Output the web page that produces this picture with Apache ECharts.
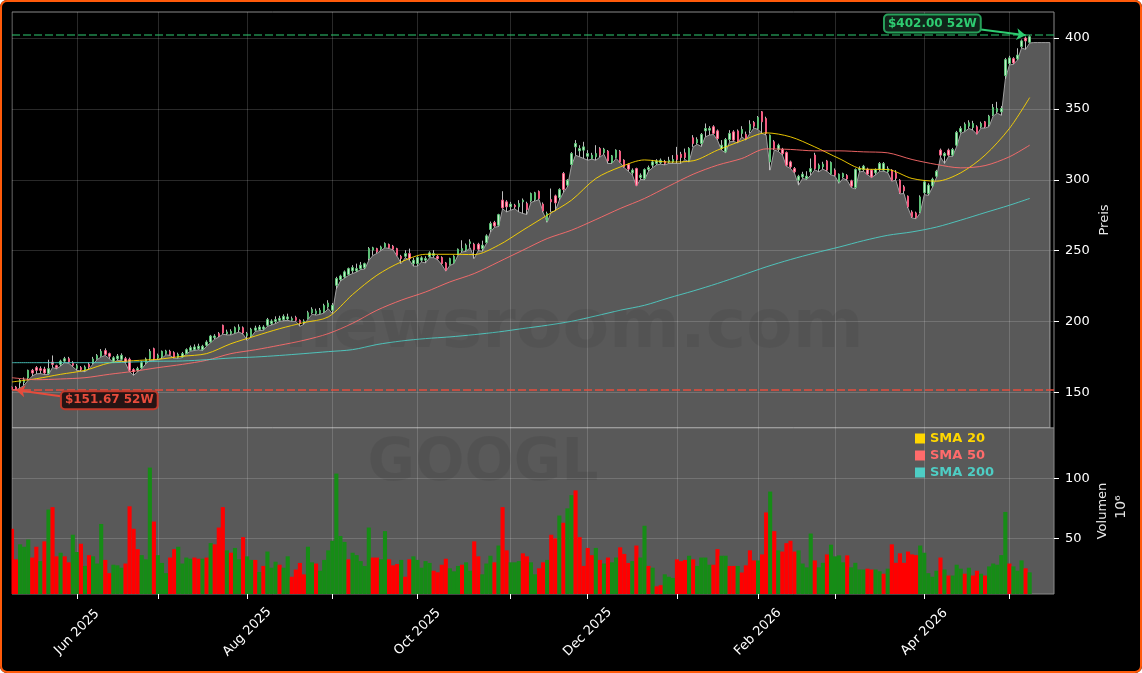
<!DOCTYPE html>
<html>
<head>
<meta charset="utf-8">
<title>GOOGL</title>
<script src="https://cdn.jsdelivr.net/npm/echarts@6/dist/echarts.min.js"></script>
<style>
    html, body { margin: 0; padding: 0; background: #fff; overflow: hidden; }
    #chart { position: absolute; left: 0; top: 0; width: 1142px; height: 673px; border-radius: 7px; overflow: hidden; }
    #frame { position: absolute; left: 0; top: 0; width: 1142px; height: 673px; box-sizing: border-box;
             border: 2px solid #ff5a0a; border-radius: 7px; pointer-events: none; }
</style>
</head>
<body>
<div id="chart"></div>
<div id="frame"></div>
<script>
/* trading days, one row = 10 days */
var opens = [
    153.7,153.7,156.6,157,160.1,165.5,167.4,166.7,166.4,163.2,
    171.4,168.8,169.7,172,173.7,170.7,166.9,167.4,165.5,169.7,
    170.7,173.7,175.6,179.4,177.3,172,173.7,173.3,173.7,173.3,
    166,165.5,167.2,170.9,173.7,180.8,174.2,174.9,177.3,178.9,
    178,174.5,174.9,177.3,179.6,180.1,180.8,180.1,183.2,185.5,
    188.6,191.4,197.3,191.4,191.4,192.1,194.2,195.6,190,189.7,
    193.8,194.2,194.7,197.3,198.5,199.9,200.8,201.3,201.8,200.8,
    202.7,200.8,199.4,202,206,205.5,205.5,206.7,210.2,207.9,
    225.5,229.5,231.4,233.1,235.7,235.7,237.3,238,244.4,250.3,
    251.4,251,252.6,254.3,253.1,251.4,246,246,247.9,240.8,
    240.8,243.2,243.2,245.6,246.5,245.9,245.1,241.3,240.1,241.3,
    247.4,249.8,250.3,255,254.5,254.5,251.4,255.7,264.9,269.8,
    267.9,285.6,284.4,280.9,282,280.9,284.4,283.2,285.1,286,
    291.7,282.8,271,286,288.6,287.5,304.4,296.2,310.8,323.2,
    320.4,320.9,316.6,315,316.2,322,319,320.2,312.2,315.7,
    320.2,313.8,310.8,304.9,307.9,301.6,300.9,307.2,310.3,311.5,
    312,312.9,312.6,312.6,317.4,318,319,313.8,329.6,326,
    325.6,334.5,335,337.4,334.5,322,319.7,328.4,333.8,334.5,
    332.7,332,335,340.4,336.2,348,343.2,312.6,326.8,321.4,
    321.4,319.2,312.6,307.9,299.7,302,300.9,305.6,317.4,307.9,
    309.1,313.3,304,306.8,298.5,302,303,299.2,294.5,306.8,
    307.2,307.5,306.8,304.9,307.2,306.8,305.6,306.8,304.9,299.7,
    295,288.4,277.3,276.6,277.3,290.8,290.3,295.7,302.5,320.9,
    316.9,320.9,317.4,324.4,333.8,335,337.8,336.9,337.4,337.4,
    340.9,339,345.6,348,348,373.5,382,385.5,385.3,394,
    400,397
];
var closes = [
    152.3,152.1,158.4,158.9,165.5,163.6,165.5,165.5,163.6,166.7,
    169.7,167.4,172,173.7,171.4,169,168.8,166,167.9,167.9,
    173.5,175.9,178.9,176.8,175.4,174.4,175.6,176.1,171.4,165.5,
    164.6,166.7,170.9,173.5,178.9,173.7,176.1,178.9,179.2,176.6,
    174.9,176.8,177.3,180.1,181.5,182,182.5,182.5,185.5,189.7,
    189.7,189.7,191.9,192.6,193,195.6,196.1,191.9,191.4,194.5,
    195.4,196.1,196.1,201.3,200.3,201.3,202.2,203.6,203.2,202,
    200.8,198.5,200.3,206.2,208.6,207.4,207.9,211.2,213,211.4,
    230.3,232.1,235,237.3,238,237.3,239.7,240.8,251.4,252,
    249.1,252.6,255,252.1,251,246.7,244.4,247.9,244.4,243.2,
    245.1,244.9,244.4,248.4,247.9,244.4,240.8,236.1,244.4,246,
    251,251.4,253.8,256.2,250.7,251,253.8,260.4,269.1,267.4,
    275.4,280.2,280.9,282.8,280.9,283.2,285.6,279,290.3,290.8,
    286.8,278,276.2,284.4,283.7,293.1,293.1,299.7,318.5,325.6,
    322,323.2,318.5,317.3,318.5,317.3,321.6,313.3,316.9,320.9,
    312.6,309.1,307.5,306.8,296.2,303.2,307.2,308.6,312.6,313.3,
    313.8,311.5,313.8,314.3,314.3,315.7,315.7,322.1,325.6,328.4,
    332,336.2,336.2,332.7,329.1,324.4,328.4,332.7,328,326.8,
    335.5,329,339.2,337.8,344,340.9,332.7,331.5,322.1,324.4,
    318.5,310.3,309.1,305.6,302.5,303.9,302.5,307.9,307.9,310.3,
    311,306.8,312.2,303.2,303.9,304.4,300.6,295.5,307.2,308,
    309.6,304,302,307.2,311.5,311.5,307.9,299.7,301,290.8,
    292.2,280.9,273.8,273.3,287.9,298.5,296.2,300.4,306,317.4,
    318.5,317.4,321.4,333.4,336.2,339.2,340.2,339.7,332.7,339.7,
    337.4,344.9,351,350.3,350.3,384.8,386,382.5,388,398,
    398,401
];
var lows = [
    152,151.67,153,155,158.5,161.5,163,163.2,162.5,162.5,
    167.5,166.5,168.5,171,170.5,168,165.5,165,164.5,166.5,
    170,173,175,176,173.7,171,172.5,172.5,170.5,164.5,
    162,164.5,166.5,170,172.5,172.5,173,174,176.5,176,
    174,174,174.5,177,179,179.5,180,179.5,182.5,185,
    187.5,189,191,190.5,190.5,191.5,192.5,191,186.7,189,
    193,193.5,193.8,196.5,197.5,198.5,200,200.5,200.8,200,
    200,196.6,198,201.5,205,204.5,205,206,209,205.5,
    223,228.5,230.5,232.5,233.8,234.9,236.6,237,243,246.5,
    248,250,252,251.5,250.5,246,240.8,245,243.2,239,
    239,242,241.3,245,245,243.5,240,235.5,239.5,240.8,
    246.7,249,249.5,252,244.4,250,249.5,255,263,266.5,
    267,279.5,277.3,278.5,279.5,277.3,276.2,275.5,284,285,
    286,277,270,277.3,278,285.5,291,295,310,317.3,
    316.2,315,313.8,314.5,313.8,316,318,311.5,311.5,315,
    312,308.5,306,303.5,295.5,300.2,300,306,308.5,310.5,
    311,310.5,311.5,311.5,311.5,311.5,314.3,312.5,323.2,325,
    323.5,330.3,331.5,332,328,320.9,319,326.8,327,326,
    330.3,328,332.7,336.5,335.5,332.7,331.5,306.8,321,320,
    317.5,309.5,308,304.5,296.2,300.9,300.2,303.2,307,305.6,
    307.5,306,303.5,302.5,297.5,301,299.5,294.5,293.5,305.5,
    306,303.5,301.5,303.5,306,306,305,299,299.7,290,
    290.3,280,273,272.5,276.5,289.5,289,294.5,301.5,316,
    311.5,316.5,316.5,323.5,332.7,334,336.2,335,332,336.5,
    336.5,337.5,345,347,345.5,371,381,381.5,384.5,393,
    392,396.5
];
var highs = [
    154.5,154.5,159.5,160.5,166,166.5,168.5,168.3,168,173,
    176,169.5,173,175,175,172,170,168.5,169,171,
    175,177,180.5,181,178,175.5,177,177.5,175,174.5,
    167,168,172,174.5,180.5,181.5,177.3,179.5,180,180,
    179,178,178.5,181,183,183.8,184.3,183.5,186.7,190.5,
    191,192.5,197.8,194.2,194.5,196.5,198,196.5,192.6,195.5,
    197,197.5,197.3,202.5,201.5,203.6,204,205,205.5,203.5,
    204,201.5,201.5,207.5,210,209,209.5,212.5,215,213,
    231.5,233,236,238,239.7,240.8,242,241.5,252.5,252.7,
    252,253.5,255.8,255,254,252,247,250.3,251.4,245,
    246,246,246,249.5,250.3,247,246,242,245,246.8,
    251.5,257.3,255,258,255.5,255.5,257,261.5,270.5,271,
    276,291.9,285.6,284.4,283,285.6,286.8,284.5,291,291.5,
    292.5,284,277.5,293.8,289.5,294,305.5,300.5,319.5,328,
    324.4,326.8,320.9,319,324.4,323,322.5,321,317.5,321.5,
    321,314.5,311.5,308,308.5,304.5,308,310,314,314.5,
    315,314,316.2,317.4,323.2,319.7,322,323,331.5,330,
    333,339.7,337.8,338.5,335.5,328,329.5,335,335,335.5,
    337.8,334,342,341.5,345,348.5,344.5,332,328,325.5,
    322.5,320,313.5,309,303.5,305.6,306,315,319,311.5,
    312.7,314,313,308,304.5,305,304,300,308,309.5,
    310.5,308.5,307.5,308,312.5,312.5,309.5,307.5,306.8,300.5,
    296.2,289,278.5,277.5,289,299.5,297.5,301.5,307,322,
    319.5,322,322.5,334.5,337.8,340.5,342,341.6,338.5,341,
    341.5,345.8,353.5,355,352,386,387.5,386.5,392.8,399,
    401,402
];
var volumes = [
    58,32.5,45,43,49,34,43,31,47.5,74,
    76,35,38,35,30,53,38.6,45.5,27,36,
    35,29,62,32,21,28,27.5,25.5,29,76.7,
    58,41,36,32.5,109,64,36,29.5,21,34,
    41,43,29,34,33,34,33,33,34,46,
    45,59,76,40,38,42,32.5,51,35,32,
    32,22,27,39,25.5,30.5,28,25.5,35,18,
    24,29.5,20,43,30,29,23,32,40,48,
    104,52,47,32.5,38,36,31,27,59,34,
    34,32.5,56,32.5,27.5,28.6,32,18,32.5,35,
    32,25.5,31,29.5,23,21.7,28,33,25,22.5,
    27,28,30,23,47.5,35,20,29,35.5,30,
    44,76,40,30,30,31,37.5,35,30,20,
    25,30,32,53,50,69,63,75,86,90,
    51,27,42,36,42,32,29,34,30,34,
    42.5,37,29.5,31,44,34,60.5,27,25.5,10,
    11,20,18,17,32.5,31,32,35.5,32.5,27,
    34,34,28,28,41,35.5,35.5,27,27,27,
    21.5,27.5,40,31.6,31.6,36.6,71.6,89,56,40,
    39,46,48,39,40,29,25.8,54,31.6,25.8,
    29.6,36.6,44.7,35,35.8,30,35.8,25.8,29.6,24,
    24,24.7,24,24,22.5,20.5,24.7,45,29.6,37.5,
    29.6,39,36.6,36,44,38,21,18,23,34,
    24,19,19,28,24.7,20.5,25.5,19,23,20.5,
    19,26.6,29,28,36,72,29,26.6,23,31.6,
    25,21.6
];
var volumeDirs = (
    "rrgggrrgrg" + "rrgrrggrgr" + "gggrrgggrr" + "rrgggrgggr" + "rggggrrgrg" +
    "rrrgrggrgg" + "rgrgggrggr" + "rrrggrgggg" + "gggrgggggr" + "rggrrrgrrg" +
    "ggggrrrrgg" + "grggrrgggr" + "grrgggrrgg" + "rrgrrgrggr" + "rrrrgrgrgg" +
    "rrrgrggrgr" + "rgggrrrgrg" + "gggrrggrrg" + "rrrrgrrgrg" + "rrrrggggrg" +
    "grggggrggg" + "grrggrgrrr" + "rrrrgggggr" + "grgggrgrrg" + "rgggggrggg" +
    "rg"
).split("");

/* SMA lines, one reading every 6 days plus the last day */
var smaDays = [0,6,12,18,24,30,36,42,48,54,60,66,72,78,84,90,96,102,108,114,120,
    126,132,138,144,150,156,162,168,174,180,186,192,198,204,210,216,222,228,234,240,246,251];
var sma20 = [157.3,159.6,162.7,165.5,170.7,172.3,173.3,175.4,177.3,184.3,189.7,194.9,199.2,203.2,
    219,232.6,242,247.4,247.4,247.2,253.8,264.4,275,285.6,300.9,309,314,312.5,
    313.4,320.9,327.5,333.1,330.3,323.2,315,307.5,307.2,300.9,299,304.9,317.4,336.2,358];
var sma50 = [160.3,158.9,159.4,160.3,162.7,164.8,167.4,169.7,172.6,177.3,180,183.2,186.7,191.4,
    198.7,207.9,215,220.8,227.9,233.8,242,250.3,258.5,264.4,271.9,279.7,286.8,295.5,
    303.9,310.3,315,321.8,321.4,320.4,320.4,319.7,319,314.3,310.8,308.4,310,316.2,324.4];
var sma200 = [170.9,170.9,170.9,170.9,170.9,171.4,171.9,172.1,173,174.2,174.9,176,177.3,178.7,
    180.1,183.7,186.2,187.9,189.1,190.7,192.6,195,197.3,200.1,203.9,207.9,211.4,216.6,
    221.5,226.8,232.6,238.5,243.7,248.3,252.5,257,260.8,263.2,266.6,271.5,276.8,282,286.8];

/* month starts as day numbers */
var monthDays = [16,36,58,79,100,123,142,164,184,203,225,246];
var monthLabels = ["Jun 2025","","Aug 2025","","Oct 2025","","Dec 2025","","Feb 2026","","Apr 2026",""];

var high52 = 402.00;
var low52 = 151.67;
var areaEndPrice = 396.8;
var priceMin = 124.8, priceMax = 418.4;
var volumeMin = 3.6, volumeMax = 142;

var fontName = '"DejaVu Sans"';
var smaColors = ["#FFD700", "#FF6B6B", "#4ECDC4"];
var smaNames = ["SMA 20", "SMA 50", "SMA 200"];
var dayCount = 258;

var categories = [];
for (var i = 0; i < dayCount; i++) {
    categories.push(String(i));
}

function isMonthDay(index) {
    return monthDays.indexOf(index) >= 0;
}

function smaPoints(values) {
    return values.map(function (v, k) { return [smaDays[k], v]; });
}

/* wicks first, bodies on top, both from the same arrays */
var wickData = opens.map(function (o, k) { return [o, closes[k], lows[k], highs[k]]; });
var bodyData = opens.map(function (o, k) {
    return [o, closes[k], Math.min(o, closes[k]), Math.max(o, closes[k])];
});

var areaData = lows.map(function (v, k) { return [k, v]; });
for (var d = 252; d <= 256; d++) {
    areaData.push([d, areaEndPrice]);
}
areaData.push([256, priceMin]);

var volumeData = volumes.map(function (v, k) {
    return { value: v, itemStyle: { color: volumeDirs[k] === "g" ? "#168c16" : "#ff0000" } };
});

function smaSeries(name, values, color) {
    return {
        name: name, type: "line", xAxisIndex: 0, yAxisIndex: 0,
        data: smaPoints(values), smooth: 0.3, showSymbol: false, silent: true, z: 6,
        lineStyle: { color: color, width: 1, opacity: 0.9 },
        itemStyle: { color: color }
    };
}

function priceBox(coord, text, color, edge, fill) {
    return {
        coord: coord, symbol: "rect", symbolSize: 0,
        label: {
            show: true, position: "inside", formatter: text,
            color: color, fontFamily: fontName, fontSize: 12, fontWeight: "bold",
            backgroundColor: fill, borderColor: edge, borderWidth: 2, borderRadius: 3,
            padding: [2, 3, 2, 3]
        }
    };
}

var gridColor = "rgba(255,255,255,0.16)";
var xLine = {
    show: true, interval: function (index) { return isMonthDay(index); },
    lineStyle: { color: gridColor, width: 1 }
};
var yLine = { show: true, lineStyle: { color: gridColor, width: 1 } };

var option = {
    backgroundColor: "#000",
    animation: false,
    textStyle: { fontFamily: fontName },
    grid: [
        { left: 12, right: 88, top: 12, height: 416, show: true, backgroundColor: "#000", borderColor: "#8a8a8a", borderWidth: 1 },
        { left: 12, right: 88, top: 428, height: 166, show: true, backgroundColor: "#595959", borderColor: "#8a8a8a", borderWidth: 1 }
    ],
    legend: {
        left: 915, top: 432, padding: 0, orient: "vertical", icon: "rect", itemWidth: 10, itemHeight: 10, itemGap: 4,
        selectedMode: false,
        data: smaNames.map(function (n, k) {
            return { name: n, textStyle: { color: smaColors[k], fontWeight: "bold", fontSize: 13, fontFamily: fontName } };
        })
    },
    xAxis: [
        {
            type: "category", gridIndex: 0, data: categories, boundaryGap: false,
            axisLine: { show: false }, axisTick: { show: false }, axisLabel: { show: false },
            splitLine: xLine
        },
        {
            type: "category", gridIndex: 1, data: categories, boundaryGap: false,
            axisLine: { show: false },
            axisTick: { show: true, length: 5, interval: function (index) { return isMonthDay(index); }, lineStyle: { color: "#fff" } },
            axisLabel: {
                show: true, rotate: 45, color: "#fff", fontSize: 13, margin: 38, hideOverlap: false,
                align: "center", verticalAlign: "middle",
                interval: function (index) { return isMonthDay(index) && monthLabels[monthDays.indexOf(index)] !== ""; },
                formatter: function (value, index) { return monthLabels[monthDays.indexOf(index)] || ""; }
            },
            splitLine: xLine
        }
    ],
    yAxis: [
        {
            type: "value", gridIndex: 0, position: "right", min: priceMin, max: priceMax, splitNumber: 6,
            name: "Preis", nameLocation: "middle", nameGap: 44, nameRotate: 90, nameMoveOverlap: false,
            nameTextStyle: { color: "#e8e8e8", fontSize: 13 },
            axisLine: { show: false },
            axisTick: { show: true, length: 5, lineStyle: { color: "#fff" }, customValues: [150, 200, 250, 300, 350, 400] },
            axisLabel: { color: "#fff", fontSize: 13, margin: 11, padding: [2, 0, 0, 0], customValues: [150, 200, 250, 300, 350, 400] },
            splitLine: yLine
        },
        {
            type: "value", gridIndex: 1, position: "right", min: volumeMin, max: volumeMax, splitNumber: 3,
            name: "Volumen", nameLocation: "middle", nameGap: 42, nameRotate: 90, nameMoveOverlap: false,
            nameTextStyle: { color: "#e8e8e8", fontSize: 13 },
            axisLine: { show: false },
            axisTick: { show: true, length: 5, lineStyle: { color: "#fff" }, customValues: [50, 100] },
            axisLabel: { color: "#fff", fontSize: 13, margin: 11, padding: [2, 0, 0, 0], customValues: [50, 100] },
            splitLine: yLine
        }
    ],
    graphic: [
        /* the first day's marks hang over the left spine, keep the margin black */
        { type: "rect", shape: { x: 2, y: 10, width: 9.5, height: 588 }, z: 20, silent: true, style: { fill: "#000" } },
        { type: "text", x: 1121, y: 507, rotation: Math.PI / 2, z: 20, style: { text: "10\u2076", fill: "#e8e8e8", font: "14px " + fontName, textAlign: "center", textVerticalAlign: "middle" } },
        { type: "text", x: 574, y: 329, z: 20, silent: true, style: { text: "newsroom.com", fill: "rgba(0,0,0,0.06)", font: "bold 68px " + fontName, textAlign: "center", textVerticalAlign: "middle" } },
        { type: "text", x: 483, y: 465, z: 20, silent: true, style: { text: "GOOGL", fill: "rgba(0,0,0,0.07)", font: "bold 58px " + fontName, textAlign: "center", textVerticalAlign: "middle" } }
    ],
    series: [
        {
            name: "Area", type: "line", xAxisIndex: 0, yAxisIndex: 0,
            data: areaData, showSymbol: false, silent: true, z: 2,
            lineStyle: { color: "#a0a0a0", width: 1 },
            areaStyle: { color: "rgba(255,255,255,0.35)", origin: "start", opacity: 1 }
        },
        {
            name: "Wick", type: "candlestick", xAxisIndex: 0, yAxisIndex: 0, data: wickData, barWidth: 1, silent: true, z: 4, clip: true,
            itemStyle: { color: "#bdbdbd", color0: "#bdbdbd", borderColor: "#bdbdbd", borderColor0: "#bdbdbd", borderWidth: 1 }
        },
        {
            name: "Body", type: "candlestick", xAxisIndex: 0, yAxisIndex: 0, data: bodyData, barWidth: 2, silent: true, z: 5, clip: true,
            itemStyle: { color: "#c4eec8", color0: "#ffc0cc", borderColor: "#5cbf76", borderColor0: "#f25c80", borderWidth: 1 }
        },
        smaSeries(smaNames[0], sma20, smaColors[0]),
        smaSeries(smaNames[1], sma50, smaColors[1]),
        smaSeries(smaNames[2], sma200, smaColors[2]),
        {
            name: "Extremes", type: "line", xAxisIndex: 0, yAxisIndex: 0, data: [], z: 7,
            markLine: {
                silent: true, symbol: "none", label: { show: false }, animation: false,
                data: [
                    { yAxis: high52, lineStyle: { color: "#2ecc71", type: [8, 3], width: 2, opacity: 0.5 } },
                    { yAxis: low52, lineStyle: { color: "#e74c3c", type: [8, 3], width: 2, opacity: 0.75 } },
                    [
                        { coord: [239, 406], symbol: "none", lineStyle: { color: "#2ecc71", type: "solid", width: 2, opacity: 1 } },
                        { coord: [250, high52], symbol: "arrow", symbolSize: 9 }
                    ],
                    [
                        { coord: [12, 147.2], symbol: "none", lineStyle: { color: "#e74c3c", type: "solid", width: 2, opacity: 1 } },
                        { coord: [1, low52], symbol: "arrow", symbolSize: 9 }
                    ]
                ]
            },
            markPoint: {
                silent: true, animation: false,
                data: [
                    priceBox([227, 410.3], "$402.00 52W", "#2ecc71", "#27a05a", "#10261a"),
                    priceBox([24, 144.4], "$151.67 52W", "#e74c3c", "#c0392b", "#261414")
                ]
            }
        },
        {
            name: "Volumen", type: "bar", xAxisIndex: 1, yAxisIndex: 1, data: volumeData, barWidth: 4.1, silent: true, z: 3, clip: true
        }
    ]
};

var chart = echarts.init(document.getElementById("chart"));
chart.setOption(option);
</script>
</body>
</html>
